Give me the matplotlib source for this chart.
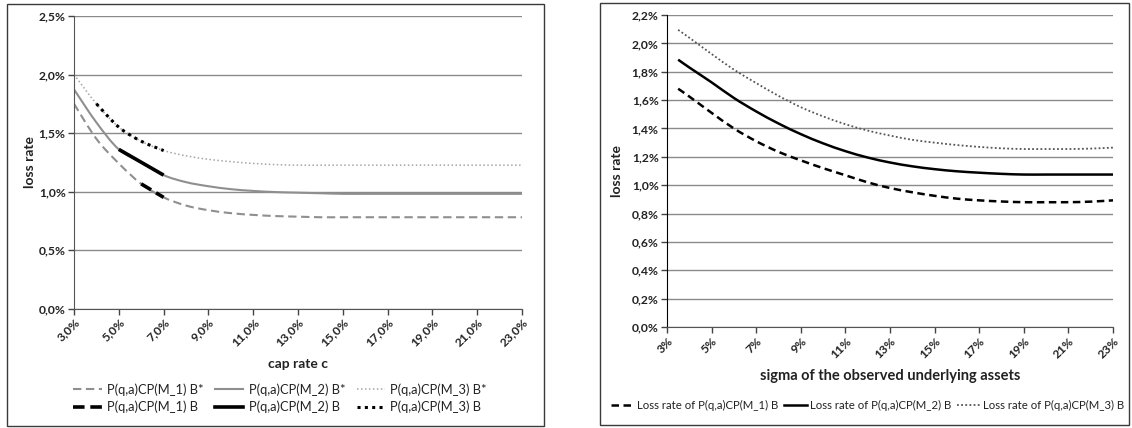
import matplotlib
matplotlib.use("Agg")
import matplotlib.pyplot as plt
from matplotlib.patches import Rectangle, PathPatch
from matplotlib.path import Path
from matplotlib.lines import Line2D
from matplotlib.ticker import FixedLocator, FuncFormatter

plt.rcParams['font.family'] = ['Lato', 'DejaVu Sans']

# ---- left panel: loss rate against cap rate c (%) ----
cap_rate = [3, 4, 5, 6, 7, 8, 9, 10, 11, 12, 13, 14, 15, 16, 17, 18, 19, 20, 21, 22, 23]
m1_bstar = [1.75, 1.45, 1.24, 1.065, 0.95, 0.88, 0.84, 0.815, 0.80, 0.79, 0.785,
            0.78, 0.78, 0.78, 0.78, 0.78, 0.78, 0.78, 0.78, 0.78, 0.78]
m2_bstar = [1.873, 1.59, 1.36, 1.25, 1.14, 1.08, 1.045, 1.02, 1.005, 0.995, 0.99,
            0.985, 0.98, 0.98, 0.98, 0.98, 0.98, 0.98, 0.98, 0.98, 0.98]
m3_bstar = [2.0, 1.75, 1.55, 1.43, 1.35, 1.305, 1.275, 1.255, 1.24, 1.23, 1.225,
            1.225, 1.225, 1.225, 1.225, 1.225, 1.225, 1.225, 1.225, 1.225, 1.225]
m1_b_x, m1_b = [6, 7], [1.065, 0.95]
m2_b_x, m2_b = [5, 6, 7], [1.36, 1.25, 1.14]
m3_b_x, m3_b = [4, 5, 6, 7], [1.75, 1.55, 1.43, 1.35]
left_xticks = [3, 5, 7, 9, 11, 13, 15, 17, 19, 21, 23]
left_yticks = [0.0, 0.5, 1.0, 1.5, 2.0, 2.5]

# ---- right panel: loss rate against sigma of the underlying assets (%) ----
sigma = [3.5, 4, 5, 6, 7, 8, 9, 10, 11, 12, 13, 14, 15, 16, 17, 18, 19, 20, 21, 22, 23]
loss_m1 = [1.68, 1.625, 1.51, 1.40, 1.31, 1.235, 1.175, 1.12, 1.07, 1.02, 0.98,
           0.95, 0.925, 0.905, 0.893, 0.885, 0.88, 0.88, 0.88, 0.884, 0.893]
loss_m2 = [1.885, 1.83, 1.725, 1.615, 1.52, 1.435, 1.36, 1.295, 1.24, 1.195, 1.16,
           1.133, 1.113, 1.098, 1.088, 1.08, 1.075, 1.075, 1.075, 1.075, 1.075]
loss_m3 = [2.095, 2.04, 1.925, 1.815, 1.72, 1.63, 1.55, 1.485, 1.43, 1.385, 1.35,
           1.32, 1.30, 1.283, 1.27, 1.26, 1.255, 1.255, 1.255, 1.258, 1.265]
right_xticks = [3, 5, 7, 9, 11, 13, 15, 17, 19, 21, 23]
right_yticks = [0.0, 0.2, 0.4, 0.6, 0.8, 1.0, 1.2, 1.4, 1.6, 1.8, 2.0, 2.2]

W, H = 1132, 428
fig = plt.figure(figsize=(W / 100, H / 100), dpi=100)


def fx(px):
    return px / W


def fy(py):
    return 1 - py / H


def smooth_line(ax, xs, ys, label, **style):
    """Draw a spreadsheet-style smoothed line (Catmull-Rom through the points)."""
    pts = list(zip(xs, ys))
    verts = [pts[0]]
    codes = [Path.MOVETO]
    n = len(pts)
    for i in range(n - 1):
        p0 = pts[i - 1] if i > 0 else pts[i]
        p1 = pts[i]
        p2 = pts[i + 1]
        p3 = pts[i + 2] if i + 2 < n else pts[i + 1]
        c1 = (p1[0] + (p2[0] - p0[0]) / 6, p1[1] + (p2[1] - p0[1]) / 6)
        c2 = (p2[0] - (p3[0] - p1[0]) / 6, p2[1] - (p3[1] - p1[1]) / 6)
        verts += [c1, c2, p2]
        codes += [Path.CURVE4] * 3
    color = style.get('color', 'black')
    lw = style.get('lw', 1.5)
    dashes = style.get('dashes')
    ls = (0, dashes) if dashes else 'solid'
    ax.add_patch(PathPatch(Path(verts, codes), fill=False, edgecolor=color,
                           linewidth=lw, linestyle=ls, capstyle='butt',
                           joinstyle='round'))
    return Line2D([], [], color=color, lw=lw, linestyle=ls, label=label)


# chart borders
fig.add_artist(Rectangle((fx(7), fy(426)), fx(544 - 7), (426 - 4) / H,
                         transform=fig.transFigure, fill=False,
                         edgecolor='#3a3a3a', linewidth=1.0))
fig.add_artist(Rectangle((fx(600), fy(425)), fx(1129 - 600), (425 - 3) / H,
                         transform=fig.transFigure, fill=False,
                         edgecolor='#3a3a3a', linewidth=1.0))

tick_font = dict(fontsize=8.7, fontweight='bold', color='#222222')
grid_col = '#8a8a8a'


def comma_fmt(decimals):
    return FuncFormatter(lambda v, _: f"{v:.{decimals}f}%".replace('.', ','))


def style_axes(ax):
    for s in ('top', 'right'):
        ax.spines[s].set_visible(False)
    ax.tick_params(axis='both', direction='out', length=4, width=1,
                   color='#444444', pad=2)
    ax.set_axisbelow(True)
    ax.yaxis.grid(True, color=grid_col, linewidth=1.0)


# ---------------- left axes ----------------
axL = fig.add_axes([fx(74), fy(308.5), fx(522 - 74), (308.5 - 16) / H])
style_axes(axL)
axL.spines['left'].set_color('#555555')
axL.spines['bottom'].set_color('#555555')
gray = '#8f8f8f'
hL = [
    smooth_line(axL, cap_rate, m1_bstar, 'P(q,a)CP(M_1) B*', color=gray,
                lw=1.5, dashes=(4, 2.2)),
    smooth_line(axL, m1_b_x, m1_b, 'P(q,a)CP(M_1) B', color='black',
                lw=2.6, dashes=(3.2, 1.6)),
    smooth_line(axL, cap_rate, m2_bstar, 'P(q,a)CP(M_2) B*', color=gray, lw=1.5),
    smooth_line(axL, m2_b_x, m2_b, 'P(q,a)CP(M_2) B', color='black', lw=2.6),
    smooth_line(axL, cap_rate, m3_bstar, 'P(q,a)CP(M_3) B*', color='#a5a5a5',
                lw=1.1, dashes=(1, 1.6)),
    smooth_line(axL, m3_b_x, m3_b, 'P(q,a)CP(M_3) B', color='black',
                lw=2.2, dashes=(1, 1.4)),
]
axL.set_xlim(3, 23)
axL.set_ylim(0, 2.5)
axL.xaxis.set_major_locator(FixedLocator(left_xticks))
axL.yaxis.set_major_locator(FixedLocator(left_yticks))
axL.xaxis.set_major_formatter(comma_fmt(1))
axL.yaxis.set_major_formatter(comma_fmt(1))
for lab in axL.get_xticklabels():
    lab.set_rotation(45)
    lab.set_ha('right')
    lab.set_rotation_mode('anchor')
    lab.set(**tick_font)
for lab in axL.get_yticklabels():
    lab.set(**tick_font)
axL.set_xlabel('cap rate c', fontsize=10, fontweight='bold', color='#222222',
               labelpad=7)
axL.set_ylabel('loss rate', fontsize=10, fontweight='bold', color='#222222',
               labelpad=2)
legL = axL.legend(handles=hL, loc='upper center', bbox_to_anchor=(0.46, -0.215),
                  ncol=3, frameon=False, fontsize=9.3, handlelength=2.2,
                  handletextpad=0.4, columnspacing=0.9, labelspacing=0.4)
for t in legL.get_texts():
    t.set_color('#222222')

# ---------------- right axes ----------------
axR = fig.add_axes([fx(667), fy(327), fx(1113 - 667), (327 - 15) / H])
style_axes(axR)
axR.spines['left'].set_color('black')
axR.spines['bottom'].set_color('#555555')
hR = [
    smooth_line(axR, sigma, loss_m1, 'Loss rate of P(q,a)CP(M_1) B',
                color='black', lw=1.8, dashes=(3, 1.8)),
    smooth_line(axR, sigma, loss_m2, 'Loss rate of P(q,a)CP(M_2) B',
                color='black', lw=1.8),
    smooth_line(axR, sigma, loss_m3, 'Loss rate of P(q,a)CP(M_3) B',
                color='#555555', lw=1.3, dashes=(1, 1.3)),
]
axR.set_xlim(3, 23)
axR.set_ylim(0, 2.2)
axR.xaxis.set_major_locator(FixedLocator(right_xticks))
axR.yaxis.set_major_locator(FixedLocator(right_yticks))
axR.xaxis.set_major_formatter(FuncFormatter(lambda v, _: f"{v:.0f}%"))
axR.yaxis.set_major_formatter(comma_fmt(1))
for lab in axR.get_xticklabels():
    lab.set_rotation(45)
    lab.set_ha('right')
    lab.set_rotation_mode('anchor')
    lab.set(**tick_font)
for lab in axR.get_yticklabels():
    lab.set(**tick_font)
axR.set_xlabel('sigma of the observed underlying assets', fontsize=10.5,
               fontweight='bold', color='#222222', labelpad=6)
axR.set_ylabel('loss rate', fontsize=10, fontweight='bold', color='#222222',
               labelpad=6)
legR = axR.legend(handles=hR, loc='upper center', bbox_to_anchor=(0.45, -0.2),
                  ncol=3, frameon=False, fontsize=8.2, handlelength=2.0,
                  handletextpad=0.3, columnspacing=0.5)
for t in legR.get_texts():
    t.set_color('#222222')

fig.savefig('out.png', dpi=100)
